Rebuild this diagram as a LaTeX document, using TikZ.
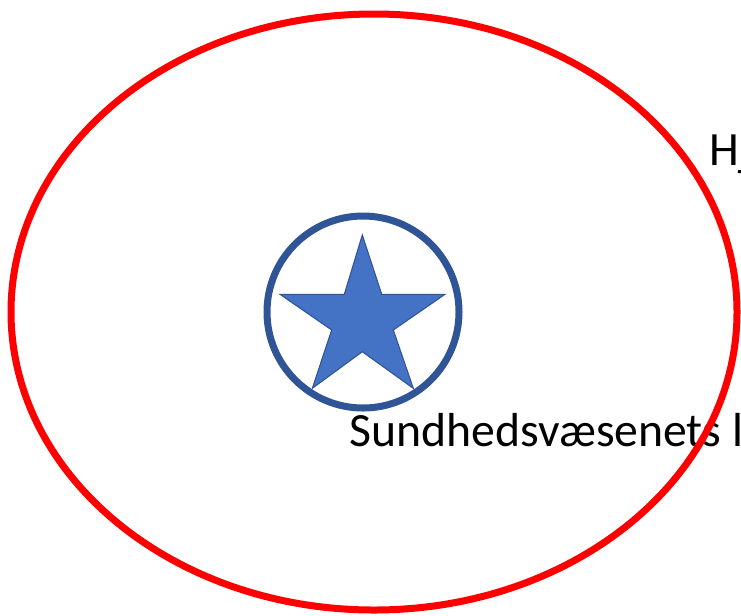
\documentclass[tikz,border=0pt]{standalone}
\usepackage{fontspec}
\setmainfont{Carlito}
\usepackage{xcolor}
\usepackage{tikz}

\definecolor{ringred}{HTML}{FF0000}
\definecolor{starfill}{HTML}{4472C4}
\definecolor{stardark}{HTML}{2F5597}

\begin{document}
\begin{tikzpicture}[x=0.75pt, y=-0.75pt,
  label text/.style={anchor=base west, inner sep=0pt, font=\fontsize{35.8}{42}\selectfont}]
  \clip (0,0) rectangle (741,615);
  \fill[white] (0,0) rectangle (741,615);

  \node[label text] (hj) at (709,165) {Hj};
  \node[label text] (sund) at (349,446) {Sundhedsvæsenets l};

  \draw[ringred, line width=5.25pt] (374,312) ellipse [x radius=363, y radius=298];

  \draw[stardark, line width=5.25pt] (363,312) circle [radius=96];
  \draw[stardark, fill=starfill, line width=0.8pt, line join=miter]
    (362.3,235) -- (381.7,294.3) -- (445,294.3) -- (393.3,330) -- (413.3,388.3)
    -- (362.3,351.7) -- (312.3,388.3) -- (331.7,330) -- (280,294.3) -- (344.3,294.3) -- cycle;
\end{tikzpicture}
\end{document}
